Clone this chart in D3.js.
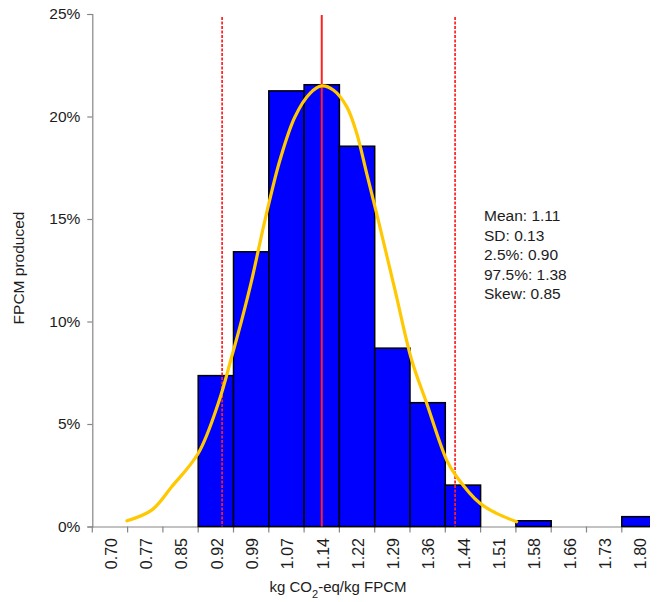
<!DOCTYPE html>
<html>
<head>
<meta charset="utf-8">
<script src="https://cdn.jsdelivr.net/npm/d3@7"></script>
<style>
  html, body { margin: 0; padding: 0; background: #fff; }
  svg { display: block; font-family: "Liberation Sans", Arial, sans-serif; }
</style>
</head>
<body>
<svg id="chart" width="664" height="602"></svg>
<script>
// ---- data ----
const categories = ["0.70","0.77","0.85","0.92","0.99","1.07","1.14","1.22","1.29","1.36","1.44","1.51","1.58","1.66","1.73","1.80"];
const shares = [0, 0, 0, 7.36, 13.4, 21.25, 21.55, 18.55, 8.7, 6.04, 2.02, 0, 0.28, 0, 0, 0.48];
const yTicks = [0, 5, 10, 15, 20, 25];
// fitted curve, x in axis units (0.70 .. 1.80), y in %
const curveX = [0.7354,0.7867,0.8283,0.8835,0.9251,0.9529,0.9737,0.9945,1.0221,1.0532,1.0844,1.1156,1.1399,1.1640,1.1918,1.2126,1.2333,1.2574,1.2921,1.3268,1.3580,1.3995,1.4203,1.4687,1.5034,1.5449];
const curveY = [0.28,0.80,1.94,3.57,6.01,8.28,10.07,12.02,14.95,17.88,19.99,21.13,21.49,21.29,20.48,19.18,17.23,14.95,11.54,8.12,6.01,3.24,2.43,1.13,0.64,0.23];
const markerNames = ["2.5%", "Mean", "97.5%"];
const markerPositions = [0.933, 1.140, 1.417];
const statsLines = ["Mean: 1.11", "SD: 0.13", "2.5%: 0.90", "97.5%: 1.38", "Skew: 0.85"];
const xTitle = ["kg CO", "2", "-eq/kg FPCM"];
const yTitle = "FPCM produced";

// ---- layout ----
const svg = d3.select("#chart");
const mLeft = 92.3, step = 35.3, mTop = 14, mBottom = 526.5, clipRight = 650;
const x = d3.scaleBand().domain(categories).range([mLeft, mLeft + step * categories.length]).padding(0);
const xv = d3.scaleLinear().domain([0.70, 1.80])
  .range([x(categories[0]) + x.bandwidth() / 2, x(categories[categories.length - 1]) + x.bandwidth() / 2]);
const y = d3.scaleLinear().domain([0, 25]).range([mBottom, mTop]);
const textColor = "#1c1c1c";

svg.append("defs").append("clipPath").attr("id", "clip")
  .append("rect").attr("x", 0).attr("y", 0).attr("width", clipRight).attr("height", 602);

const plot = svg.append("g").attr("clip-path", "url(#clip)");

// x axis line + ticks (ticks between categories)
const xAxis = d3.axisBottom(x).tickSize(0).tickFormat("");
const gx = plot.append("g").attr("transform", `translate(0,${mBottom})`).call(xAxis);
gx.select(".domain").attr("stroke", "#868686").attr("stroke-width", 1.2)
  .attr("d", `M${mLeft},0.5H${mLeft + step * categories.length}`);
gx.selectAll(".tick").remove();
const boundaries = categories.map(c => x(c)).concat([x(categories[categories.length - 1]) + x.bandwidth()]);
plot.append("g").selectAll("line").data(boundaries).join("line")
  .attr("x1", d => d).attr("x2", d => d)
  .attr("y1", mBottom).attr("y2", mBottom + 6)
  .attr("stroke", "#868686").attr("stroke-width", 1.2);

// bars
plot.append("g").selectAll("rect").data(categories.map((c, i) => ({c, v: shares[i]})).filter(d => d.v > 0))
  .join("rect")
  .attr("x", d => x(d.c))
  .attr("y", d => y(d.v))
  .attr("width", x.bandwidth())
  .attr("height", d => y(0) - y(d.v))
  .attr("fill", "#0000FF")
  .attr("stroke", "#000")
  .attr("stroke-width", 1.5);

// x tick labels
svg.append("g").selectAll("text").data(categories).join("text")
  .attr("transform", d => `translate(${x(d) + x.bandwidth() / 2 + 1},538) rotate(-90)`)
  .attr("text-anchor", "end")
  .attr("dy", "0.36em")
  .attr("font-size", 16)
  .attr("fill", textColor)
  .text(d => d);

// y axis
const yAxis = d3.axisLeft(y).tickValues(yTicks).tickFormat(d => d + "%").tickSize(5).tickPadding(7);
const gy = svg.append("g").attr("transform", `translate(${mLeft},0)`).call(yAxis);
gy.select(".domain").attr("stroke", "#868686").attr("stroke-width", 1.2);
gy.selectAll(".tick line").attr("stroke", "#868686").attr("stroke-width", 1.2);
gy.selectAll(".tick text").attr("font-size", 15.5).attr("fill", textColor)
  .attr("font-family", "'Liberation Sans', Arial, sans-serif");

// marker lines
plot.append("g").selectAll("line").data(markerNames.map((n, i) => ({n, v: markerPositions[i]})))
  .join("line")
  .attr("x1", d => xv(d.v)).attr("x2", d => xv(d.v))
  .attr("y1", d => d.n === "Mean" ? y(25) + 1 : y(25) + 3).attr("y2", mBottom)
  .attr("stroke", "#FF2020")
  .attr("stroke-width", d => d.n === "Mean" ? 2 : 1.7)
  .attr("stroke-dasharray", d => d.n === "Mean" ? null : "3,1.5");

// fitted curve
const line = d3.line().x(d => xv(d[0])).y(d => y(d[1])).curve(d3.curveCatmullRom.alpha(0.5));
plot.append("path").datum(curveX.map((v, i) => [v, curveY[i]]))
  .attr("d", line)
  .attr("fill", "none")
  .attr("stroke", "#FFC800")
  .attr("stroke-width", 3.2)
  .attr("stroke-linecap", "round");

// stats text
svg.append("g").selectAll("text").data(statsLines).join("text")
  .attr("x", 484).attr("y", (d, i) => 221 + i * 19.6)
  .attr("font-size", 15.5).attr("fill", textColor)
  .text(d => d);

// axis titles
const xt = svg.append("text").attr("x", 338).attr("y", 592).attr("text-anchor", "middle")
  .attr("font-size", 15).attr("fill", textColor);
xt.append("tspan").text(xTitle[0]);
xt.append("tspan").attr("baseline-shift", "sub").attr("font-size", 11).text(xTitle[1]);
xt.append("tspan").text(xTitle[2]);

svg.append("text").attr("transform", "translate(24,268) rotate(-90)")
  .attr("text-anchor", "middle").attr("font-size", 15.5).attr("fill", textColor)
  .text(yTitle);
</script>
</body>
</html>
